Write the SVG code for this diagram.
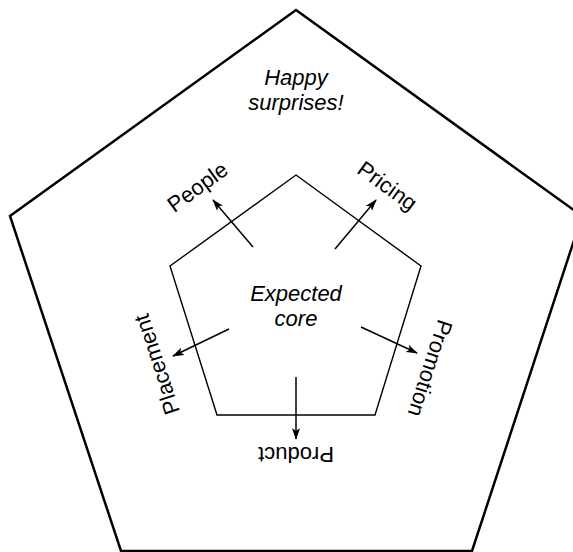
<svg xmlns="http://www.w3.org/2000/svg" width="573" height="552" viewBox="0 0 573 552">
  <style>
    .outer { fill: none; stroke: #000; stroke-width: 2.5; stroke-linejoin: miter; }
    .inner { fill: none; stroke: #000; stroke-width: 1.4; stroke-linejoin: miter; }
    .conn { stroke: #000; stroke-width: 1.5; fill: none; marker-end: url(#arrow); }
    .lbl { font-family: "Liberation Sans", Arial, sans-serif; font-size: 22px; fill: #000; text-anchor: middle; }
    .it { font-style: italic; }
  </style>
  <defs>
    <marker id="arrow" viewBox="0 0 12 8" refX="11" refY="4" markerWidth="12" markerHeight="8" markerUnits="userSpaceOnUse" orient="auto">
      <path d="M0,0 L12,4 L0,8 L3,4 Z" fill="#000"/>
    </marker>
  </defs>
  <rect x="0" y="0" width="573" height="552" fill="#fff"/>

  <g id="outer-pentagon">
    <polygon class="outer" points="296,10 582,216 472,551 121,551 10,216"/>
    <text class="lbl it" x="296" y="85">Happy</text>
    <text class="lbl it" x="296" y="110">surprises!</text>
  </g>

  <g id="core">
    <polygon class="inner" points="296,175 421,266 375,415 217,415 170,266"/>
    <text class="lbl it" x="296" y="301">Expected</text>
    <text class="lbl it" x="296" y="326">core</text>
  </g>

  <g id="connectors">
    <line class="conn" x1="253" y1="247" x2="213" y2="200"/>
    <line class="conn" x1="335" y1="249" x2="376" y2="200"/>
    <line class="conn" x1="229" y1="329" x2="173" y2="356"/>
    <line class="conn" x1="361" y1="327" x2="417" y2="353"/>
    <line class="conn" x1="296" y1="377" x2="296" y2="439"/>
  </g>

  <g id="people">
    <text class="lbl" transform="translate(202,193) rotate(-36)">People</text>
  </g>
  <g id="pricing">
    <text class="lbl" transform="translate(383,192) rotate(36)">Pricing</text>
  </g>
  <g id="promotion">
    <text class="lbl" transform="translate(423,366) rotate(108)">Promotion</text>
  </g>
  <g id="product">
    <text class="lbl" transform="translate(296,447) rotate(180)">Product</text>
  </g>
  <g id="placement">
    <text class="lbl" transform="translate(164,362) rotate(-108)">Placement</text>
  </g>
</svg>
